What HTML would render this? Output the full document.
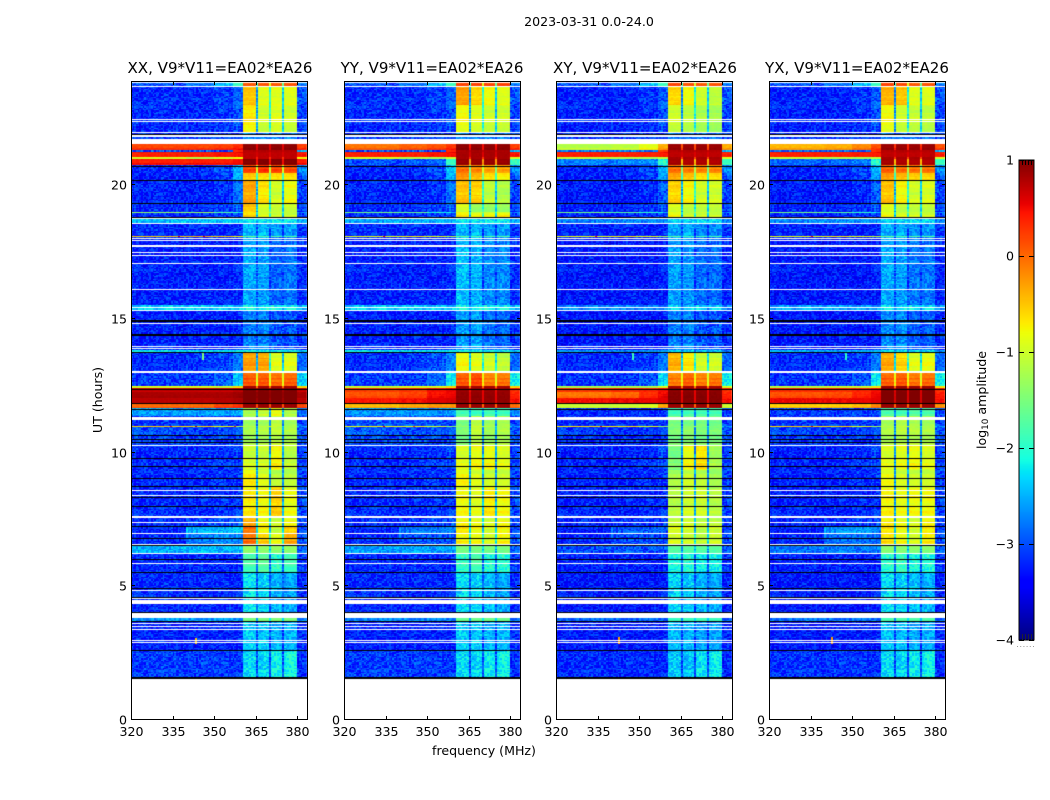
<!DOCTYPE html>
<html lang="en">
<head>
<meta charset="utf-8">
<title>2023-03-31 0.0-24.0 amplitude waterfall</title>
<style>
html,body{margin:0;padding:0;background:#fff;}
#figure{position:relative;width:1050px;height:800px;overflow:hidden;background:#fff;font-family:"DejaVu Sans","Liberation Sans",sans-serif;}
#figure canvas{position:absolute;display:block;}
#overlay{position:absolute;left:0;top:0;}
#overlay text{fill:#000;font-family:"DejaVu Sans","Liberation Sans",sans-serif;}
</style>
</head>
<body>
<div id="figure">
<svg id="overlay" width="1050" height="800" viewBox="0 0 1050 800">
<text x="589" y="26" text-anchor="middle" font-size="12.6">2023-03-31 0.0-24.0</text>
<text x="220" y="73" text-anchor="middle" font-size="15.05">XX, V9*V11=EA02*EA26</text>
<text x="432" y="73" text-anchor="middle" font-size="15.05">YY, V9*V11=EA02*EA26</text>
<text x="645" y="73" text-anchor="middle" font-size="15.05">XY, V9*V11=EA02*EA26</text>
<text x="857" y="73" text-anchor="middle" font-size="15.05">YX, V9*V11=EA02*EA26</text>
<text x="484" y="755" text-anchor="middle" font-size="12.6">frequency (MHz)</text>
<text transform="translate(102,400) rotate(-90)" text-anchor="middle" font-size="12.6">UT (hours)</text>
<text transform="translate(986,400) rotate(-90)" text-anchor="middle" font-size="12.6">log<tspan font-size="8.8" dy="2">10</tspan><tspan dy="-2"> amplitude</tspan></text>
</svg>
</div>
<script>
/* Axis limits and tick labels */
const freqMin = 320, freqMax = 383.8;
const hourMin = 0, hourMax = 23.91;
const freqTicks = [320, 335, 350, 365, 380];
const hourTicks = [0, 5, 10, 15, 20];
const colorTicks = [1, 0, -1, -2, -3, -4];
const colorMin = -4, colorMax = 1;

/* Frequency segment edges (MHz): left continuum, then four bright blocks split by narrow gaps */
const freqEdges = [320, 340, 350, 356.5, 360.4, 364.8, 365.5, 369.9, 370.6, 374.8, 375.5, 379.8, 383.8];

/* Time band edges (UT hours), top to bottom */
const bandEdges = [23.91,23.69,23.01,22.00,21.57,21.33,21.27,21.08,21.03,20.75,20.47,20.21,19.33,19.01,18.97,18.75,18.61,18.11,18.07,15.49,15.34,13.86,13.78,13.06,12.49,12.42,12.25,12.05,11.82,11.65,11.34,10.99,10.96,10.24,9.34,8.78,7.58,7.28,6.97,6.54,6.25,5.52,4.03,3.73,2.60,1.59];

/* Blanked (white) time ranges, [upper hour, lower hour] */
const flaggedRanges = [[23.88,23.85],[23.73,23.69],[22.49,22.45],[22.41,22.38],[21.99,21.96],[21.89,21.83],[21.74,21.57],[18.78,18.75],[18.61,18.58],[18.04,18.00],[17.96,17.92],[17.77,17.70],[17.51,17.47],[17.40,17.36],[17.10,17.06],[16.12,16.09],[15.45,15.41],[15.34,15.30],[14.85,14.81],[13.99,13.95],[13.91,13.88],[13.05,12.98],[11.34,11.22],[10.28,10.24],[8.61,8.56],[8.41,8.37],[7.62,7.56],[7.40,7.36],[6.99,6.95],[6.57,6.54],[6.25,6.22],[5.86,5.82],[4.85,4.81],[4.55,4.51],[4.48,4.35],[4.00,3.81],[3.63,3.59],[3.51,3.48],[3.39,3.35],[3.01,2.98],[2.90,2.87]];

/* Black separator lines, UT hours */
const blackLineHours = [21.94,20.74,20.21,19.33,18.82,13.78,12.37,11.88,11.64,10.68,10.53,10.40,9.82,9.52,9.07,8.77,8.34,8.02,7.27,6.82,6.54,6.02,5.52,4.95,4.60,4.05,3.69,2.63];
const thickLineHours = [14.93,14.41,1.59];

/* log10 amplitude per time band (rows) and frequency segment (columns) */
const valuesXX = [
[-3.0,-2.8,-2.4,-1.9,0.1,-1.9,0.1,-0.9,0.1,-1.6,0.1,-2.8],
[-3.2,-3.2,-3.1,-2.9,-0.5,-2.6,-0.9,-2.0,-0.9,-2.4,-0.9,-3.0],
[-3.2,-3.2,-3.1,-3.0,-0.7,-2.6,-1.0,-2.0,-0.9,-2.4,-1.0,-3.1],
[-3.1,-3.1,-3.1,-3.1,-2.7,-3.0,-2.7,-3.0,-2.7,-3.0,-2.7,-3.1],
[0.25,0.25,0.3,0.4,0.95,0.6,0.95,0.6,0.95,0.6,0.95,0.3],
[-3.0,-3.0,-3.0,0.3,0.75,0.7,0.75,0.7,0.75,0.7,0.75,-2.5],
[0.3,0.3,0.35,0.4,0.7,0.6,0.7,0.6,0.7,0.6,0.7,0.35],
[-1.0,-1.2,-1.0,-0.8,0.7,0.3,0.7,0.3,0.7,0.3,0.7,-0.8],
[0.45,0.45,0.45,0.5,1.0,0.5,1.0,0.5,1.0,0.5,1.0,0.45],
[-3.2,-3.2,-3.0,-2.5,0.15,-1.0,0.25,-1.0,0.15,-1.0,0.1,-2.7],
[-3.25,-3.25,-3.1,-2.5,-0.5,-1.8,-0.6,-1.5,-0.6,-1.8,-0.6,-3.0],
[-3.25,-3.25,-3.15,-2.85,-0.35,-2.5,-0.7,-2.0,-1.0,-2.4,-0.85,-3.1],
[-3.2,-3.2,-3.1,-2.95,-0.45,-2.5,-0.9,-2.0,-1.0,-2.4,-1.0,-3.1],
[-1.3,-1.3,-1.7,-2.1,-0.6,-2.0,-0.9,-1.2,-1.0,-1.8,-1.0,-2.8],
[-3.2,-3.2,-3.1,-3.0,-0.6,-2.5,-0.9,-2.0,-1.0,-2.4,-1.0,-3.1],
[-2.45,-2.45,-2.45,-2.45,-2.2,-2.5,-2.2,-2.5,-2.2,-2.5,-2.2,-2.6],
[-3.2,-3.2,-3.2,-3.15,-2.5,-3.0,-2.5,-3.0,-2.6,-3.0,-2.6,-3.2],
[-0.6,-0.5,-0.6,-0.8,-1.7,-2.4,-1.8,-2.4,-1.8,-2.4,-1.8,-2.8],
[-3.25,-3.25,-3.25,-3.2,-2.55,-3.0,-2.6,-3.0,-2.9,-3.0,-2.8,-3.2],
[-2.4,-2.4,-2.4,-2.4,-2.2,-2.4,-2.2,-2.4,-2.2,-2.4,-2.2,-2.5],
[-3.25,-3.25,-3.25,-3.2,-2.75,-3.0,-2.75,-3.0,-2.95,-3.0,-2.95,-3.2],
[-2.3,-2.3,-2.3,-2.3,-2.2,-2.3,-2.2,-2.3,-2.2,-2.3,-2.2,-2.4],
[-3.2,-3.15,-3.05,-2.8,-0.3,-2.6,-0.35,-2.0,-0.9,-2.4,-0.9,-2.9],
[-3.1,-3.1,-2.95,-2.4,0.1,-0.9,0.1,-0.9,0.0,-0.9,0.05,-2.4],
[-0.9,-0.9,-1.0,-0.6,0.85,0.0,0.85,0.0,0.85,0.0,0.85,-0.6],
[0.7,0.7,0.7,0.75,1.0,0.85,1.0,0.85,1.0,0.85,1.0,0.7],
[0.8,0.8,0.8,0.85,1.0,0.9,1.0,0.9,1.0,0.9,1.0,0.8],
[0.72,0.72,0.75,0.8,1.0,0.85,1.0,0.85,1.0,0.85,1.0,0.72],
[0.05,0.05,0.25,0.35,0.9,0.2,0.9,0.2,0.9,0.2,0.9,0.2],
[-2.6,-2.6,-2.55,-2.5,-1.25,-2.5,-1.05,-2.5,-0.85,-2.5,-1.2,-2.85],
[-3.15,-3.15,-3.15,-3.1,-1.3,-2.8,-1.25,-2.8,-1.1,-2.8,-1.25,-3.1],
[-0.6,-0.6,-0.8,-1.2,-1.2,-2.4,-1.2,-1.0,-1.1,-2.2,-1.2,-2.7],
[-3.05,-3.05,-3.05,-3.05,-1.25,-2.6,-1.2,-2.6,-1.1,-2.6,-1.2,-3.0],
[-3.2,-3.2,-3.15,-3.1,-1.0,-2.6,-1.0,-2.6,-0.75,-2.6,-1.1,-3.1],
[-3.2,-3.2,-3.15,-3.1,-0.75,-2.5,-0.95,-2.5,-1.15,-2.5,-1.15,-3.1],
[-3.2,-3.2,-3.15,-3.1,-0.7,-2.5,-0.8,-2.4,-0.55,-2.5,-0.85,-3.05],
[-3.2,-3.1,-3.0,-2.9,-0.35,-2.4,-0.8,-2.4,-1.0,-2.4,-0.8,-3.05],
[-3.25,-2.5,-2.5,-2.4,-0.1,-2.4,-0.8,-2.3,-1.1,-2.4,-0.6,-3.05],
[-3.2,-2.8,-2.7,-2.7,0.0,-2.0,-0.5,-1.9,-0.8,-2.0,-0.3,-3.0],
[-2.5,-2.5,-2.5,-2.45,-1.35,-2.5,-1.35,-2.4,-1.35,-2.5,-1.35,-3.0],
[-3.2,-3.2,-3.2,-3.15,-1.85,-2.8,-1.75,-2.8,-2.0,-2.8,-1.9,-3.15],
[-3.2,-3.2,-3.2,-3.2,-2.25,-2.9,-2.35,-2.9,-2.5,-2.9,-2.55,-3.2],
[-2.6,-2.6,-2.6,-2.6,-1.4,-2.4,-1.4,-2.4,-1.4,-2.4,-1.4,-2.7],
[-3.25,-3.25,-3.25,-3.2,-2.4,-3.0,-2.4,-3.0,-2.5,-3.0,-2.5,-3.2],
[-3.1,-3.1,-3.1,-3.1,-2.3,-3.0,-2.35,-3.0,-2.15,-3.0,-2.1,-3.2]
];
const valuesYY = [
[-3.0,-2.8,-2.4,-1.9,0.2,-1.9,0.2,-0.9,0.2,-1.6,0.2,-2.8],
[-3.2,-3.2,-3.1,-2.9,-0.3,-2.6,-0.6,-2.0,-0.8,-2.4,-0.9,-3.0],
[-3.2,-3.2,-3.1,-3.0,-0.8,-2.6,-0.9,-2.0,-1.0,-2.4,-1.0,-3.1],
[-3.1,-3.1,-3.1,-3.1,-2.7,-3.0,-2.7,-3.0,-2.7,-3.0,-2.7,-3.1],
[0.0,0.1,0.2,0.35,0.95,0.5,0.95,0.5,0.95,0.5,0.95,0.3],
[-3.0,-3.0,-3.0,0.3,0.8,0.7,0.8,0.7,0.8,0.7,0.8,-2.5],
[0.3,0.3,0.35,0.4,0.8,0.6,0.8,0.6,0.8,0.6,0.8,0.35],
[-1.0,-1.2,-1.3,-1.0,0.8,0.3,0.8,0.3,0.8,0.3,0.8,-1.0],
[-3.0,-3.0,-2.9,-1.9,0.9,-0.2,0.9,-0.2,0.9,-0.2,0.9,-2.0],
[-3.2,-3.2,-3.0,-2.4,-0.1,-1.5,-0.2,-1.0,-0.35,-1.5,-0.35,-2.7],
[-3.25,-3.25,-3.1,-2.5,-0.2,-1.9,-0.4,-1.5,-0.6,-1.9,-0.7,-3.0],
[-3.25,-3.25,-3.15,-2.85,-0.5,-2.5,-0.6,-2.0,-1.1,-2.4,-1.2,-3.1],
[-3.2,-3.2,-3.1,-2.95,-0.9,-2.5,-1.3,-2.0,-1.3,-2.4,-1.3,-3.1],
[-1.5,-1.6,-2.0,-2.3,-0.7,-2.0,-1.0,-1.4,-1.0,-1.8,-0.9,-2.8],
[-3.2,-3.2,-3.1,-3.0,-0.7,-2.5,-0.8,-2.0,-0.8,-2.4,-0.7,-3.1],
[-2.55,-2.55,-2.55,-2.55,-2.2,-2.5,-2.2,-2.5,-2.2,-2.5,-2.2,-2.6],
[-3.2,-3.2,-3.2,-3.15,-2.5,-3.0,-2.5,-3.0,-2.6,-3.0,-2.6,-3.2],
[-0.9,-0.8,-0.9,-1.2,-1.7,-2.4,-1.8,-2.4,-1.8,-2.4,-1.8,-2.8],
[-3.25,-3.25,-3.25,-3.2,-2.45,-3.0,-2.5,-3.0,-2.7,-3.0,-2.7,-3.2],
[-2.4,-2.4,-2.4,-2.4,-2.2,-2.4,-2.2,-2.4,-2.2,-2.4,-2.2,-2.5],
[-3.25,-3.25,-3.25,-3.2,-2.6,-3.0,-2.6,-3.0,-2.8,-3.0,-2.85,-3.2],
[-2.3,-2.3,-2.3,-2.3,-2.2,-2.3,-2.2,-2.3,-2.2,-2.3,-2.2,-2.4],
[-3.2,-3.15,-3.0,-2.75,-0.8,-2.4,-0.9,-2.0,-1.0,-2.2,-1.1,-2.9],
[-3.1,-3.1,-2.9,-2.2,0.1,-0.9,0.2,-0.8,-0.1,-0.9,-0.05,-2.2],
[-1.0,-0.9,-0.9,-0.6,0.85,0.0,0.85,0.0,0.85,0.0,0.85,-0.6],
[0.3,0.35,0.5,0.55,0.9,0.55,0.9,0.55,0.9,0.55,0.9,0.4],
[0.05,0.15,0.4,0.5,0.9,0.55,0.9,0.55,0.9,0.55,0.9,0.3],
[0.35,0.4,0.55,0.6,0.9,0.55,0.9,0.55,0.9,0.55,0.9,0.4],
[-0.4,-0.3,-0.2,-0.2,0.9,0.1,0.9,0.1,0.9,0.1,0.9,0.0],
[-2.65,-2.65,-2.65,-2.6,-1.85,-2.5,-1.9,-2.5,-1.85,-2.5,-1.9,-2.7],
[-3.0,-3.0,-3.05,-3.1,-1.5,-2.7,-1.1,-2.7,-1.3,-2.7,-1.2,-3.1],
[-0.8,-0.8,-1.0,-1.4,-1.4,-2.4,-1.1,-1.2,-1.2,-2.2,-1.2,-2.7],
[-3.0,-3.0,-3.0,-3.05,-1.5,-2.6,-1.1,-2.6,-1.3,-2.6,-1.2,-3.0],
[-3.2,-3.2,-3.15,-3.05,-0.9,-2.6,-0.8,-2.6,-0.8,-2.6,-0.9,-3.1],
[-3.2,-3.2,-3.15,-3.1,-0.8,-2.5,-0.95,-2.5,-1.05,-2.5,-1.05,-3.1],
[-3.2,-3.2,-3.15,-3.1,-0.8,-2.5,-0.9,-2.4,-0.7,-2.5,-0.8,-3.05],
[-3.2,-3.15,-3.05,-3.0,-0.75,-2.4,-0.85,-2.4,-0.95,-2.4,-0.8,-3.05],
[-3.25,-2.8,-2.8,-2.75,-0.7,-2.4,-0.85,-2.3,-1.0,-2.4,-0.8,-3.05],
[-3.2,-3.0,-3.0,-2.95,-0.7,-2.2,-0.75,-2.1,-0.9,-2.2,-0.7,-3.0],
[-2.6,-2.6,-2.6,-2.55,-1.5,-2.5,-1.5,-2.4,-1.5,-2.5,-1.5,-3.0],
[-3.2,-3.2,-3.2,-3.15,-1.95,-2.8,-1.85,-2.8,-2.05,-2.8,-2.0,-3.15],
[-3.2,-3.2,-3.2,-3.2,-2.3,-2.9,-2.35,-2.9,-2.45,-2.9,-2.55,-3.2],
[-2.7,-2.7,-2.7,-2.7,-1.5,-2.4,-1.5,-2.4,-1.5,-2.4,-1.5,-2.8],
[-3.25,-3.25,-3.25,-3.2,-2.4,-3.0,-2.4,-3.0,-2.5,-3.0,-2.5,-3.2],
[-3.1,-3.1,-3.1,-3.1,-2.3,-3.0,-2.35,-3.0,-2.2,-3.0,-2.15,-3.2]
];
const valuesXY = [
[-3.0,-2.8,-2.4,-1.9,0.2,-1.9,0.1,-1.0,0.1,-1.6,0.1,-2.8],
[-3.25,-3.25,-3.15,-2.95,-0.6,-2.7,-0.8,-2.1,-1.0,-2.4,-1.1,-3.0],
[-3.25,-3.25,-3.15,-3.0,-1.0,-2.7,-1.1,-2.1,-1.2,-2.4,-1.25,-3.1],
[-3.15,-3.15,-3.15,-3.15,-2.8,-3.0,-2.8,-3.0,-2.8,-3.0,-2.8,-3.15],
[-1.1,-1.05,-0.8,-0.3,0.9,0.2,0.9,0.2,0.9,0.2,0.9,-0.3],
[-2.8,-2.8,-2.8,0.2,0.75,0.7,0.75,0.7,0.75,0.7,0.75,-2.5],
[0.3,0.3,0.3,0.35,0.7,0.6,0.7,0.6,0.7,0.6,0.7,0.3],
[-1.1,-1.2,-1.3,-1.1,0.8,0.2,0.8,0.2,0.8,0.2,0.8,-1.0],
[-2.75,-2.75,-2.7,-2.0,0.85,-0.4,0.8,-0.4,0.8,-0.4,0.8,-1.9],
[-3.25,-3.25,-3.05,-2.5,-0.1,-1.5,-0.15,-1.2,-0.2,-1.5,-0.2,-2.7],
[-3.25,-3.25,-3.1,-2.6,-0.3,-1.9,-0.45,-1.5,-0.6,-1.9,-0.6,-3.0],
[-3.3,-3.3,-3.2,-2.95,-0.6,-2.5,-0.8,-2.0,-1.0,-2.4,-1.0,-3.1],
[-3.25,-3.25,-3.15,-3.0,-0.9,-2.5,-1.05,-2.1,-1.05,-2.4,-1.05,-3.1],
[-1.5,-1.7,-1.9,-2.3,-0.8,-2.0,-1.1,-1.4,-1.0,-1.8,-1.0,-2.8],
[-3.25,-3.25,-3.15,-3.05,-0.8,-2.5,-1.0,-2.1,-1.0,-2.4,-1.0,-3.1],
[-2.75,-2.75,-2.75,-2.75,-2.3,-2.6,-2.3,-2.6,-2.3,-2.6,-2.3,-2.8],
[-3.25,-3.25,-3.25,-3.2,-2.6,-3.0,-2.55,-3.0,-2.7,-3.0,-2.7,-3.2],
[-0.9,-0.8,-0.9,-1.3,-1.8,-2.4,-1.9,-2.4,-1.9,-2.4,-1.9,-2.8],
[-3.3,-3.3,-3.3,-3.25,-2.6,-3.05,-2.65,-3.05,-2.85,-3.05,-2.85,-3.25],
[-2.75,-2.75,-2.75,-2.75,-2.4,-2.7,-2.4,-2.7,-2.4,-2.7,-2.4,-2.8],
[-3.3,-3.3,-3.3,-3.25,-2.75,-3.05,-2.75,-3.05,-2.95,-3.05,-2.95,-3.25],
[-2.7,-2.7,-2.7,-2.7,-2.4,-2.7,-2.4,-2.7,-2.4,-2.7,-2.4,-2.8],
[-3.2,-3.2,-3.1,-2.8,-0.4,-2.4,-0.7,-2.0,-1.0,-2.2,-1.0,-2.9],
[-3.15,-3.15,-3.0,-2.3,-0.1,-0.8,0.05,-0.8,-0.1,-0.9,-0.05,-2.2],
[-1.2,-1.2,-1.2,-0.9,0.85,-0.1,0.85,-0.1,0.85,-0.1,0.85,-0.9],
[0.35,0.4,0.45,0.5,0.95,0.55,0.95,0.55,0.95,0.55,0.95,0.4],
[-0.15,-0.05,0.25,0.45,0.95,0.55,0.95,0.55,0.95,0.55,0.95,0.3],
[0.4,0.45,0.5,0.55,0.95,0.55,0.95,0.55,0.95,0.55,0.95,0.4],
[-1.0,-1.0,-0.9,-0.3,0.9,0.1,0.9,0.1,0.9,0.1,0.9,-1.0],
[-3.2,-3.2,-3.15,-3.1,-1.9,-2.7,-1.85,-2.7,-1.85,-2.7,-1.85,-3.1],
[-3.2,-3.2,-3.2,-3.15,-1.5,-2.8,-1.5,-2.8,-1.5,-2.8,-1.55,-3.1],
[-0.7,-0.7,-0.9,-1.4,-1.5,-2.5,-1.5,-1.2,-1.5,-2.2,-1.5,-2.7],
[-3.15,-3.15,-3.15,-3.15,-1.5,-2.7,-1.4,-2.7,-1.5,-2.7,-1.5,-3.0],
[-3.25,-3.25,-3.2,-3.0,-1.5,-2.7,-0.8,-2.7,-0.65,-2.7,-1.25,-3.1],
[-3.25,-3.25,-3.2,-3.1,-1.25,-2.6,-1.05,-2.6,-1.15,-2.6,-1.3,-3.1],
[-3.25,-3.25,-3.2,-3.15,-1.15,-2.6,-1.0,-2.5,-1.0,-2.6,-1.15,-3.1],
[-3.25,-3.2,-3.15,-3.1,-1.05,-2.5,-1.0,-2.5,-1.1,-2.5,-1.1,-3.1],
[-3.3,-2.95,-2.95,-2.95,-0.95,-2.5,-1.0,-2.4,-1.15,-2.5,-1.05,-3.1],
[-3.25,-3.05,-3.05,-3.0,-0.9,-2.3,-0.95,-2.2,-1.05,-2.3,-0.95,-3.05],
[-3.0,-3.0,-3.0,-2.95,-1.7,-2.6,-1.7,-2.5,-1.7,-2.6,-1.7,-3.05],
[-3.25,-3.25,-3.25,-3.2,-2.1,-2.9,-2.05,-2.9,-2.2,-2.9,-2.15,-3.2],
[-3.3,-3.3,-3.3,-3.25,-2.35,-2.95,-2.4,-2.95,-2.5,-2.95,-2.55,-3.25],
[-2.85,-2.85,-2.85,-2.85,-1.8,-2.5,-1.8,-2.5,-1.8,-2.5,-1.8,-2.9],
[-3.3,-3.3,-3.3,-3.25,-2.5,-3.05,-2.5,-3.05,-2.6,-3.05,-2.6,-3.25],
[-3.2,-3.2,-3.2,-3.2,-2.4,-3.05,-2.45,-3.05,-2.25,-3.05,-2.2,-3.25]
];
const valuesYX = [
[-3.0,-2.8,-2.4,-1.9,0.2,-1.9,0.15,-0.9,0.1,-1.6,0.1,-2.8],
[-3.25,-3.25,-3.15,-2.95,-0.4,-2.7,-0.5,-2.1,-0.9,-2.4,-0.9,-3.0],
[-3.25,-3.25,-3.15,-3.0,-0.8,-2.7,-1.0,-2.1,-1.05,-2.4,-1.1,-3.1],
[-3.15,-3.15,-3.15,-3.15,-2.8,-3.0,-2.8,-3.0,-2.8,-3.0,-2.8,-3.15],
[-0.35,-0.3,-0.1,0.2,0.9,0.4,0.9,0.4,0.9,0.4,0.9,0.2],
[-2.9,-2.9,-2.9,0.25,0.75,0.7,0.75,0.7,0.75,0.7,0.75,-2.5],
[0.3,0.3,0.32,0.35,0.7,0.6,0.7,0.6,0.7,0.6,0.7,0.32],
[-1.1,-1.2,-1.3,-1.1,0.8,0.2,0.8,0.2,0.8,0.2,0.8,-1.0],
[-2.9,-2.9,-2.8,-2.0,0.85,-0.4,0.8,-0.4,0.8,-0.4,0.8,-1.9],
[-3.25,-3.25,-3.05,-2.5,0.0,-1.5,-0.05,-1.2,-0.1,-1.5,-0.1,-2.7],
[-3.25,-3.25,-3.1,-2.6,-0.25,-1.9,-0.4,-1.5,-0.5,-1.9,-0.55,-3.0],
[-3.3,-3.3,-3.2,-2.95,-0.5,-2.5,-0.8,-2.0,-1.0,-2.4,-0.95,-3.1],
[-3.25,-3.25,-3.15,-3.0,-0.85,-2.5,-1.05,-2.1,-1.05,-2.4,-1.05,-3.1],
[-1.5,-1.7,-1.9,-2.3,-0.8,-2.0,-1.0,-1.4,-1.0,-1.8,-1.0,-2.8],
[-3.25,-3.25,-3.15,-3.05,-0.8,-2.5,-0.9,-2.1,-0.95,-2.4,-0.95,-3.1],
[-2.7,-2.7,-2.7,-2.7,-2.3,-2.6,-2.3,-2.6,-2.3,-2.6,-2.3,-2.8],
[-3.25,-3.25,-3.25,-3.2,-2.55,-3.0,-2.55,-3.0,-2.65,-3.0,-2.65,-3.2],
[-0.9,-0.8,-0.9,-1.1,-1.7,-2.4,-1.8,-2.4,-1.8,-2.4,-1.8,-2.8],
[-3.3,-3.3,-3.3,-3.25,-2.55,-3.05,-2.6,-3.05,-2.8,-3.05,-2.8,-3.25],
[-2.6,-2.6,-2.6,-2.6,-2.3,-2.6,-2.3,-2.6,-2.3,-2.6,-2.3,-2.7],
[-3.3,-3.3,-3.3,-3.25,-2.7,-3.05,-2.7,-3.05,-2.9,-3.05,-2.9,-3.25],
[-2.55,-2.55,-2.55,-2.55,-2.3,-2.6,-2.3,-2.6,-2.3,-2.6,-2.3,-2.7],
[-3.2,-3.2,-3.1,-2.8,-0.35,-2.4,-0.6,-2.0,-0.9,-2.2,-0.85,-2.9],
[-3.15,-3.15,-3.0,-2.2,0.05,-0.8,0.1,-0.8,-0.05,-0.9,0.0,-2.2],
[-1.1,-1.0,-1.0,-0.7,0.9,0.0,0.9,0.0,0.9,0.0,0.9,-0.7],
[0.4,0.4,0.45,0.5,1.0,0.6,1.0,0.6,1.0,0.6,1.0,0.4],
[0.05,0.1,0.3,0.5,1.0,0.6,1.0,0.6,1.0,0.6,1.0,0.35],
[0.45,0.45,0.5,0.55,1.0,0.6,1.0,0.6,1.0,0.6,1.0,0.4],
[-0.5,-0.5,-0.4,-0.1,0.9,0.1,0.9,0.1,0.9,0.1,0.9,-0.2],
[-3.1,-3.1,-3.05,-3.0,-1.8,-2.7,-1.85,-2.7,-1.75,-2.7,-1.8,-3.05],
[-3.15,-3.15,-3.15,-3.1,-1.25,-2.8,-1.15,-2.8,-1.2,-2.8,-1.25,-3.1],
[-0.6,-0.6,-0.9,-1.3,-1.2,-2.4,-1.15,-1.1,-1.2,-2.2,-1.2,-2.7],
[-3.1,-3.1,-3.1,-3.1,-1.2,-2.7,-1.15,-2.7,-1.15,-2.7,-1.2,-3.0],
[-3.25,-3.25,-3.2,-3.05,-0.9,-2.7,-0.85,-2.7,-0.8,-2.7,-0.9,-3.1],
[-3.25,-3.25,-3.2,-3.1,-0.85,-2.6,-1.0,-2.6,-1.05,-2.6,-1.05,-3.1],
[-3.25,-3.25,-3.2,-3.15,-0.75,-2.6,-0.85,-2.5,-0.8,-2.6,-0.8,-3.1],
[-3.25,-3.2,-3.1,-3.05,-0.7,-2.5,-0.85,-2.5,-0.95,-2.5,-0.75,-3.1],
[-3.3,-2.65,-2.6,-2.75,-0.7,-2.5,-0.85,-2.4,-1.0,-2.5,-0.75,-3.1],
[-3.25,-2.85,-2.85,-2.85,-0.6,-2.3,-0.75,-2.2,-0.9,-2.3,-0.65,-3.05],
[-2.8,-2.8,-2.8,-2.75,-1.4,-2.6,-1.4,-2.5,-1.4,-2.6,-1.4,-3.05],
[-3.25,-3.25,-3.25,-3.2,-2.0,-2.9,-1.95,-2.9,-2.1,-2.9,-2.05,-3.2],
[-3.3,-3.3,-3.3,-3.25,-2.3,-2.95,-2.35,-2.95,-2.45,-2.95,-2.5,-3.25],
[-2.8,-2.8,-2.8,-2.8,-1.7,-2.5,-1.7,-2.5,-1.7,-2.5,-1.7,-2.9],
[-3.3,-3.3,-3.3,-3.25,-2.45,-3.05,-2.45,-3.05,-2.55,-3.05,-2.55,-3.25],
[-3.15,-3.15,-3.15,-3.15,-2.3,-3.05,-2.35,-3.05,-2.2,-3.05,-2.15,-3.25]
];

/* Isolated interference spikes: [freq MHz, upper hour, lower hour, log10 amplitude] */
const spikesXX = [[345.5,13.76,13.46,-1.5],[343,3.05,2.85,-0.5],[337,18.11,18.07,0.6],[346,18.11,18.07,0.6],[343,10.99,10.96,0.7],[334,10.99,10.96,0.5],[357,10.99,10.96,0.5]];
const spikesYY = [[334,18.11,18.07,0.6],[334,10.99,10.96,0.6],[345,10.99,10.96,0.2]];
const spikesXY = [[342.5,3.1,2.85,-0.3],[347.5,13.76,13.46,-1.9],[334,18.11,18.07,0.5],[336,10.99,10.96,0.6]];
const spikesYX = [[342.5,3.1,2.85,-0.3],[347.5,13.76,13.46,-2.0],[335,18.11,18.07,0.5],[335,10.99,10.96,0.6]];

/* Hand-typed speckle texture approximating the unreadable per-pixel noise, log10 units */
const speckle = [0.18,-0.22,0.05,-0.09,0.27,-0.15,0.02,0.12,-0.26,0.08,-0.04,0.21,-0.18,0.14,-0.07,0.3,-0.24,0.01,0.1,-0.12,0.23,-0.02,-0.28,0.16,0.06,-0.19,0.25,-0.06,0.11,-0.16,0.03,0.2,-0.1,-0.21,0.15,0.07,-0.13,0.29,-0.25,-0.03,0.13,-0.17,0.09,0.24,-0.2,-0.08,0.19,-0.27,0.04,0.17,-0.11,0.26,-0.01,-0.23,0.12,-0.14,0.22,0.0,-0.18,0.08,-0.05];

const panels = [
  {key: 'xx', values: valuesXX, spikes: spikesXX},
  {key: 'yy', values: valuesYY, spikes: spikesYY},
  {key: 'xy', values: valuesXY, spikes: spikesXY},
  {key: 'yx', values: valuesYX, spikes: spikesYX}
];

const svgNS = 'http://www.w3.org/2000/svg';
const figure = document.getElementById('figure');
const overlay = document.getElementById('overlay');
const axTop = 81, axBottom = 720, axWidth = 177;
const cbLeft = 1019, cbTop = 160, cbWidth = 15, cbHeight = 480;

function axLeft(i) { return Math.round(131 + i * 212.67); }
function xScale(f) { return (f - freqMin) / (freqMax - freqMin) * axWidth; }
function yScale(h) { return (hourMax - h) / (hourMax - hourMin) * (axBottom - axTop); }
function cbScale(v) { return (colorMax - v) / (colorMax - colorMin) * cbHeight; }

function ramp(t, pts) {
  for (let k = 1; k < pts.length; k++) {
    if (t <= pts[k][0]) {
      const a = pts[k - 1], b = pts[k];
      return a[1] + (b[1] - a[1]) * (t - a[0]) / (b[0] - a[0]);
    }
  }
  return pts[pts.length - 1][1];
}
const jetR = [[0,0],[0.35,0],[0.66,1],[0.89,1],[1,0.5]];
const jetG = [[0,0],[0.125,0],[0.375,1],[0.64,1],[0.91,0],[1,0]];
const jetB = [[0,0.5],[0.11,1],[0.34,1],[0.65,0],[1,0]];
function jet(v) {
  const t = Math.min(1, Math.max(0, (v - colorMin) / (colorMax - colorMin)));
  return 'rgb(' + Math.round(255 * ramp(t, jetR)) + ',' + Math.round(255 * ramp(t, jetG)) + ',' + Math.round(255 * ramp(t, jetB)) + ')';
}
function findSegment(edges, val, descending) {
  for (let k = 0; k < edges.length - 1; k++) {
    if (descending ? (val <= edges[k] && val > edges[k + 1]) : (val >= edges[k] && val < edges[k + 1])) return k;
  }
  return -1;
}
/* Texture only: adds speckle on low values and faint row streaks on bright blocks */
function textured(v, col, row) {
  const len = speckle.length;
  const cell = speckle[(col * col * 3 + row * row * 7 + col * row) % len];
  if (v < -2.9) return v + cell * 1.25;
  if (v < -1.9) return v + cell * 1.0;
  const streak = speckle[(row * 3) % len];
  if (v < 0.5) return v + cell * 0.25 + streak * 0.4;
  return v + cell * 0.1 + streak * 0.12;
}

function drawPanel(panel, idx) {
  const canvas = document.createElement('canvas');
  
  
  canvas.width = axWidth;
  canvas.height = axBottom - axTop;
  canvas.style.left = axLeft(idx) + 'px';
  canvas.style.top = axTop + 'px';
  figure.insertBefore(canvas, overlay);
  const ctx = canvas.getContext('2d');
  const df = 0.6, dh = 0.05;
  let col = 0;
  for (let f = freqMin; f < freqMax; f += df, col++) {
    const x0 = Math.round(xScale(f)), x1 = Math.round(xScale(f + df));
    const c = findSegment(freqEdges, f + df / 2, false);
    if (c < 0) continue;
    let row = 0;
    for (let h = hourMax; h > bandEdges[bandEdges.length - 1]; h -= dh, row++) {
      const r = findSegment(bandEdges, h - dh / 2, true);
      if (r < 0) continue;
      const v = panel.values[r][c];
      ctx.fillStyle = jet(textured(v, col, row));
      const y0 = Math.round(yScale(h)), y1 = Math.round(yScale(h - dh));
      ctx.fillRect(x0, y0, Math.max(1, x1 - x0), Math.max(1, y1 - y0));
    }
  }
  panel.spikes.forEach(function (s) {
    ctx.fillStyle = jet(s[3]);
    const sy = Math.round(yScale(s[1]));
    ctx.fillRect(Math.round(xScale(s[0])), sy, 2, Math.max(1, Math.round(yScale(s[2])) - sy));
  });
  ctx.fillStyle = '#fff';
  flaggedRanges.forEach(function (g) {
    const gy = Math.round(yScale(g[0]));
    ctx.fillRect(0, gy, axWidth, Math.max(1, Math.round(yScale(g[1])) - gy));
  });
  ctx.fillStyle = '#000';
  blackLineHours.forEach(function (h) {
    ctx.fillRect(0, Math.round(yScale(h)), axWidth, 1);
  });
  thickLineHours.forEach(function (h) {
    ctx.fillRect(0, Math.round(yScale(h)) - 1, axWidth, 2);
  });
}

function addLine(parent, x1, y1, x2, y2, width, color, name) {
  const l = document.createElementNS(svgNS, 'line');
  l.setAttribute('x1', x1);
  l.setAttribute('y1', y1);
  l.setAttribute('x2', x2);
  l.setAttribute('y2', y2);
  l.setAttribute('stroke', color);
  l.setAttribute('stroke-width', width);
  
  
  parent.appendChild(l);
}
function addText(parent, x, y, str, anchor, name) {
  const t = document.createElementNS(svgNS, 'text');
  t.setAttribute('x', x);
  t.setAttribute('y', y);
  t.setAttribute('text-anchor', anchor);
  t.setAttribute('font-size', '12.6');
  
  
  t.textContent = str;
  parent.appendChild(t);
}

function drawAxes(panel, idx) {
  const left = axLeft(idx);
  const g = document.createElementNS(svgNS, 'g');
  
  
  overlay.appendChild(g);
  const frame = document.createElementNS(svgNS, 'rect');
  frame.setAttribute('x', left + 0.5);
  frame.setAttribute('y', axTop + 0.5);
  frame.setAttribute('width', axWidth - 1);
  frame.setAttribute('height', axBottom - axTop - 1);
  frame.setAttribute('fill', 'none');
  frame.setAttribute('stroke', '#000');
  frame.setAttribute('stroke-width', '1');
  
  
  g.appendChild(frame);
  freqTicks.forEach(function (f) {
    const x = Math.round(left + xScale(f)) + 0.5;
    addLine(g, x, axBottom, x, axBottom - 4, 1, '#000', 'x-tick-bottom');
    addLine(g, x, axTop, x, axTop + 4, 1, '#000', 'x-tick-top');
    addText(g, x, axBottom + 16, String(f), 'middle', 'x-tick-label');
  });
  hourTicks.forEach(function (h) {
    const y = Math.round(axTop + yScale(h)) - 0.5;
    addLine(g, left, y, left + 4, y, 1, '#000', 'y-tick-left');
    addLine(g, left + axWidth, y, left + axWidth - 4, y, 1, '#000', 'y-tick-right');
    addText(g, left - 4, y + 5, String(h), 'end', 'y-tick-label');
  });
}

function drawColorbar() {
  const canvas = document.createElement('canvas');
  
  
  canvas.width = cbWidth;
  canvas.height = cbHeight;
  canvas.style.left = cbLeft + 'px';
  canvas.style.top = cbTop + 'px';
  figure.insertBefore(canvas, overlay);
  const ctx = canvas.getContext('2d');
  for (let y = 0; y < cbHeight; y++) {
    ctx.fillStyle = jet(colorMax - (y + 0.5) / cbHeight * (colorMax - colorMin));
    ctx.fillRect(0, y, cbWidth, 1);
  }
  const g = document.createElementNS(svgNS, 'g');
  
  
  overlay.appendChild(g);
  const frame = document.createElementNS(svgNS, 'rect');
  frame.setAttribute('x', cbLeft);
  frame.setAttribute('y', cbTop);
  frame.setAttribute('width', cbWidth);
  frame.setAttribute('height', cbHeight);
  frame.setAttribute('fill', 'none');
  frame.setAttribute('stroke', '#000');
  frame.setAttribute('stroke-width', '1');
  
  
  g.appendChild(frame);
  colorTicks.forEach(function (v) {
    const y = Math.round(cbTop + cbScale(v)) + 0.5;
    addLine(g, cbLeft, y, cbLeft + 5, y, 1, '#000', 'colorbar-tick-left');
    addLine(g, cbLeft + cbWidth, y, cbLeft + cbWidth - 5, y, 1, '#000', 'colorbar-tick-right');
    const label = v < 0 ? '\u2212' + Math.abs(v) : String(v);
    addText(g, cbLeft - 5, y + 4, label, 'end', 'colorbar-tick-label');
  });
  for (let k = 1; k <= 4; k++) {
    const x = cbLeft + k * 3 + 0.5;
    addLine(g, x, cbTop, x, cbTop + 5, 1, '#000', 'colorbar-minor-tick-top');
    addLine(g, x, cbTop + cbHeight, x, cbTop + cbHeight - 6, 1, '#223', 'colorbar-minor-tick-bottom');
  }
  for (let k = 0; k < 6; k++) {
    const x = cbLeft - 2 + k * 3.2;
    addLine(g, x, 646.5, x + 1, 646.5, 1, '#999', 'colorbar-offscale-dot');
  }
}

panels.forEach(drawPanel);
panels.forEach(drawAxes);
drawColorbar();
</script>
</body>
</html>
